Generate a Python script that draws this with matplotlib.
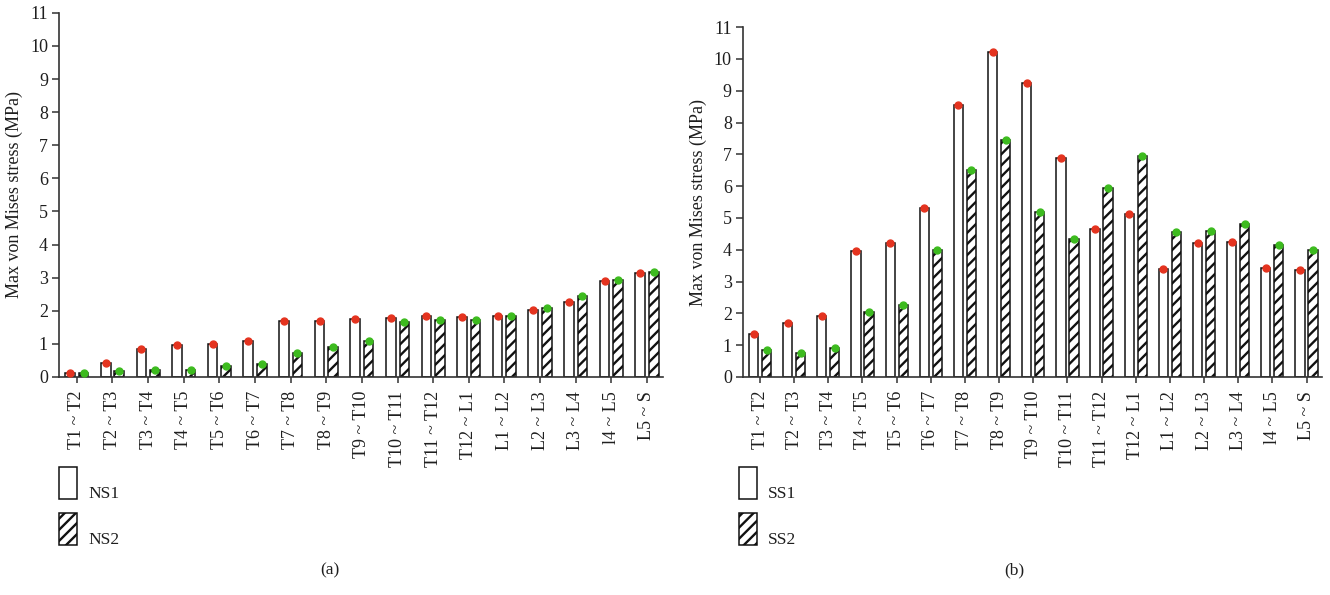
import matplotlib
matplotlib.use('Agg')
import matplotlib.pyplot as plt
from matplotlib.patches import Rectangle
import numpy as np

plt.rcParams['font.family'] = ['Liberation Serif', 'DejaVu Serif']
plt.rcParams['hatch.linewidth'] = 1.7
plt.rcParams['hatch.color'] = '#111111'

# segment labels (same for both panels)
segments = ['T1 ~ T2', 'T2 ~ T3', 'T3 ~ T4', 'T4 ~ T5', 'T5 ~ T6', 'T6 ~ T7',
            'T7 ~ T8', 'T8 ~ T9', 'T9 ~ T10', 'T10 ~ T11', 'T11 ~ T12',
            'T12 ~ L1', 'L1 ~ L2', 'L2 ~ L3', 'L3 ~ L4', 'l4 ~ L5', 'L5 ~ S']

# (a) normal spine
ns1 = [0.12, 0.43, 0.86, 0.96, 0.99, 1.08, 1.70, 1.69, 1.75, 1.77, 1.83,
       1.81, 1.85, 2.03, 2.27, 2.90, 3.14]
ns2 = [0.13, 0.18, 0.22, 0.20, 0.34, 0.38, 0.72, 0.90, 1.09, 1.66, 1.71,
       1.71, 1.84, 2.08, 2.44, 2.92, 3.17]

# (b) scoliosis spine
ss1 = [1.36, 1.69, 1.93, 3.97, 4.21, 5.32, 8.56, 10.23, 9.23, 6.90, 4.65,
       5.14, 3.41, 4.20, 4.25, 3.43, 3.36]
ss2 = [0.84, 0.76, 0.91, 2.03, 2.26, 3.99, 6.50, 7.46, 5.20, 4.33, 5.95,
       6.96, 4.55, 4.60, 4.80, 4.14, 3.99]

RED = '#e4331f'
GREEN = '#3dbb1f'
AXC = '#333333'
TXT = '#1e1e1e'


def draw_panel(ax, v1, v2):
    x = np.arange(len(segments))
    w = 0.27
    off = 0.19
    ax.bar(x - off, v1, w, color='white', edgecolor='#111111', linewidth=1.1)
    ax.bar(x + off, v2, w, color='white', edgecolor='#111111', linewidth=1.1,
           hatch='///')
    ax.plot(x - off, v1, 'o', color=RED, markersize=5, zorder=5)
    ax.plot(x + off, v2, 'o', color=GREEN, markersize=5, zorder=5)
    ax.set_xlim(-0.5, len(segments) - 0.55)
    ax.set_ylim(0, 11)
    ax.set_yticks(range(0, 12))
    ax.set_xticks(x)
    ax.set_xticklabels(segments, rotation=90, fontsize=13, color=TXT)
    ax.tick_params(axis='y', labelsize=13, labelcolor=TXT,
                   length=5, width=1.1, color=AXC, direction='out', pad=3)
    ax.tick_params(axis='x', length=4, width=1.1, color=AXC, pad=6)
    for s in ['top', 'right']:
        ax.spines[s].set_visible(False)
    for s in ['left', 'bottom']:
        ax.spines[s].set_color(AXC)
        ax.spines[s].set_linewidth(1.2)
    ax.set_ylabel('Max von Mises stress (MPa)', fontsize=13, color=TXT,
                  labelpad=5)


fig = plt.figure(figsize=(13.3, 5.95), dpi=100)
ax1 = fig.add_axes([0.0444, 0.3664, 0.4541, 0.612])
ax2 = fig.add_axes([0.5586, 0.3664, 0.4353, 0.588])

draw_panel(ax1, ns1, ns2)
draw_panel(ax2, ss1, ss2)

# hand-made legends under each panel
for xl, names in [(0.0444, ['NS1', 'NS2']), (0.5556, ['SS1', 'SS2'])]:
    fig.add_artist(Rectangle((xl, 0.1613), 0.0135, 0.0538, transform=fig.transFigure,
                             facecolor='white', edgecolor='#111111', linewidth=1.1))
    fig.add_artist(Rectangle((xl, 0.084), 0.0135, 0.0538, transform=fig.transFigure,
                             facecolor='white', edgecolor='#111111', linewidth=1.1,
                             hatch='///'))
    fig.text(xl + 0.022, 0.163, names[0], fontsize=12.5, color=TXT, va='baseline')
    fig.text(xl + 0.022, 0.086, names[1], fontsize=12.5, color=TXT, va='baseline')

fig.text(0.2481, 0.035, '(a)', fontsize=12.5, ha='center', color=TXT)
fig.text(0.7624, 0.035, '(b)', fontsize=12.5, ha='center', color=TXT)

fig.savefig('out.png', dpi=100)
